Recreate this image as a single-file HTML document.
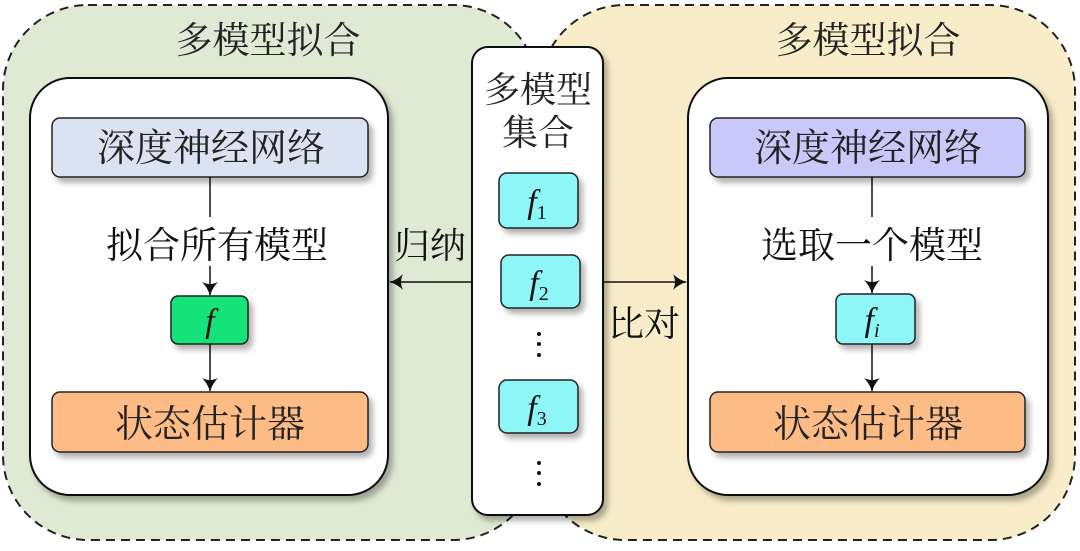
<!DOCTYPE html>
<html><head><meta charset="utf-8"><style>
body{margin:0;background:#fff;}
svg text{font-family:"Liberation Serif","Noto Serif CJK SC","Noto Sans CJK SC",serif;}
</style></head><body>
<svg width="1080" height="546" viewBox="0 0 1080 546" xmlns="http://www.w3.org/2000/svg">
<defs>
<filter id="sh" x="-20%" y="-20%" width="150%" height="160%"><feDropShadow dx="4" dy="5" stdDeviation="3" flood-color="#000" flood-opacity="0.3"/></filter>
<marker id="ar" viewBox="0 0 14 16" refX="13" refY="8" markerWidth="14" markerHeight="16" markerUnits="userSpaceOnUse" orient="auto"><path d="M0,0 Q6,6 14,8 Q6,10 0,16 Q4,8 0,0 Z" fill="#111"/></marker>
</defs>
<rect x="540" y="5" width="535" height="535" rx="85" fill="#f8edc8" stroke="#222" stroke-width="2" stroke-dasharray="9,6"/>
<rect x="3" y="5" width="535" height="535" rx="85" fill="#dfe9d3" stroke="#222" stroke-width="2" stroke-dasharray="9,6"/>
<text x="268" y="53" font-size="37" text-anchor="middle" fill="#222">多模型拟合</text>
<text x="868" y="53" font-size="37" text-anchor="middle" fill="#222">多模型拟合</text>
<!-- left inner -->
<rect x="30" y="78" width="358" height="417" rx="40" fill="#fff" stroke="#111" stroke-width="2" filter="url(#sh)"/>
<rect x="52" y="118" width="316" height="59" rx="8" fill="#dbe2f1" stroke="#222" stroke-width="1.5" filter="url(#sh)"/>
<text x="211" y="161" font-size="38" text-anchor="middle" fill="#222">深度神经网络</text>
<line x1="210" y1="177" x2="210" y2="217" stroke="#111" stroke-width="1.5"/>
<text x="217" y="258" font-size="37" text-anchor="middle" fill="#111">拟合所有模型</text>
<line x1="210" y1="266" x2="210" y2="295" stroke="#111" stroke-width="1.5" marker-end="url(#ar)"/>
<rect x="171" y="296" width="77" height="48" rx="7" fill="#19e27a" stroke="#222" stroke-width="1.5" filter="url(#sh)"/>
<text x="210" y="332" font-size="34" font-style="italic" text-anchor="middle" fill="#111">f</text>
<line x1="210" y1="344" x2="210" y2="391" stroke="#111" stroke-width="1.5" marker-end="url(#ar)"/>
<rect x="52" y="392" width="316" height="60" rx="8" fill="#fdbb86" stroke="#222" stroke-width="1.5" filter="url(#sh)"/>
<text x="210" y="437" font-size="38" text-anchor="middle" fill="#222">状态估计器</text>
<!-- right inner -->
<rect x="688" y="78" width="360" height="417" rx="40" fill="#fff" stroke="#111" stroke-width="2" filter="url(#sh)"/>
<rect x="710" y="118" width="315" height="59" rx="8" fill="#c9c8f8" stroke="#222" stroke-width="1.5" filter="url(#sh)"/>
<text x="868" y="161" font-size="38" text-anchor="middle" fill="#222">深度神经网络</text>
<line x1="872" y1="177" x2="872" y2="217" stroke="#111" stroke-width="1.5"/>
<text x="872" y="258" font-size="37" text-anchor="middle" fill="#111">选取一个模型</text>
<line x1="872" y1="266" x2="872" y2="293" stroke="#111" stroke-width="1.5" marker-end="url(#ar)"/>
<rect x="836" y="294" width="79" height="50" rx="7" fill="#8ef6f6" stroke="#222" stroke-width="1.5" filter="url(#sh)"/>
<text x="872" y="331" font-size="34" font-style="italic" text-anchor="middle" fill="#111">f<tspan font-size="20" dy="6">i</tspan></text>
<line x1="872" y1="344" x2="872" y2="391" stroke="#111" stroke-width="1.5" marker-end="url(#ar)"/>
<rect x="710" y="392" width="315" height="60" rx="8" fill="#fdbb86" stroke="#222" stroke-width="1.5" filter="url(#sh)"/>
<text x="868" y="437" font-size="38" text-anchor="middle" fill="#222">状态估计器</text>
<!-- arrows -->
<line x1="472" y1="282" x2="390" y2="282" stroke="#111" stroke-width="1.5" marker-end="url(#ar)"/>
<text x="430" y="258" font-size="36" text-anchor="middle" fill="#111">归纳</text>
<line x1="604" y1="282" x2="686" y2="282" stroke="#111" stroke-width="1.5" marker-end="url(#ar)"/>
<text x="644" y="336" font-size="36" text-anchor="middle" fill="#111">比对</text>
<!-- column -->
<rect x="472" y="47" width="131" height="468" rx="16" fill="#fff" stroke="#111" stroke-width="2" filter="url(#sh)"/>
<text x="538" y="102" font-size="36" text-anchor="middle" fill="#222">多模型</text>
<text x="538" y="145" font-size="36" text-anchor="middle" fill="#222">集合</text>
<g fill="#8ef6f6" stroke="#222" stroke-width="1.5" filter="url(#sh)">
<rect x="499" y="173" width="79" height="55" rx="8"/>
<rect x="501" y="255" width="79" height="53" rx="8"/>
<rect x="499" y="380" width="79" height="53" rx="8"/>
</g>
<g font-size="34" font-style="italic" fill="#111" text-anchor="middle">
<text x="537" y="213">f<tspan font-size="20" font-style="normal" dy="6">1</tspan></text>
<text x="539" y="294">f<tspan font-size="20" font-style="normal" dy="6">2</tspan></text>
<text x="537" y="419">f<tspan font-size="20" font-style="normal" dy="6">3</tspan></text>
</g>
<g fill="#111">
<circle cx="539" cy="334" r="2"/><circle cx="539" cy="344" r="2"/><circle cx="539" cy="355" r="2"/>
<circle cx="539" cy="463" r="2"/><circle cx="539" cy="473" r="2"/><circle cx="539" cy="484" r="2"/>
</g>
</svg>
</body></html>
